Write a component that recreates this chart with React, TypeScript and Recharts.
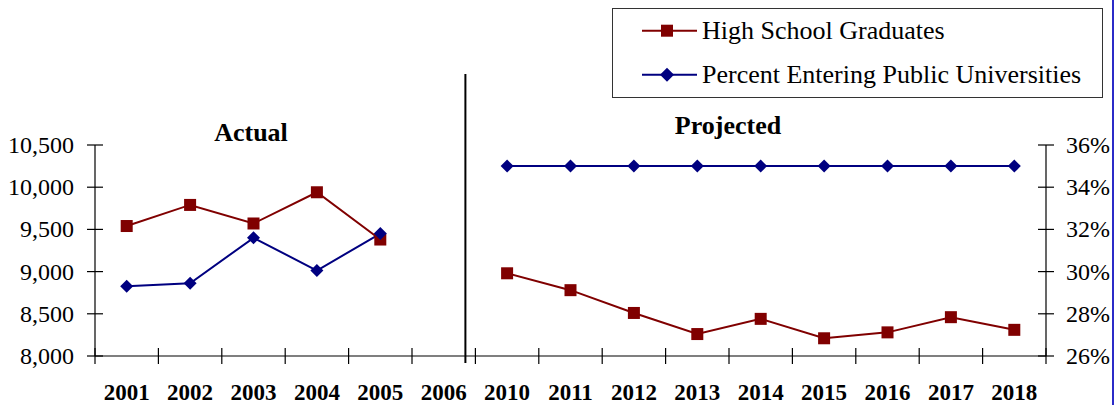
import React from "react";
import { Legend, Line, LineChart, ReferenceLine, XAxis, YAxis } from "recharts";

const years = ["2001", "2002", "2003", "2004", "2005", "2006", "2010", "2011", "2012", "2013", "2014", "2015", "2016", "2017", "2018"];
const graduates = [9540, 9790, 9570, 9940, 9380, null, 8980, 8780, 8510, 8260, 8440, 8210, 8280, 8460, 8310];
const percentEntering = [29.3, 29.45, 31.6, 30.05, 31.8, null, 35, 35, 35, 35, 35, 35, 35, 35, 35];
const leftTicks = [8000, 8500, 9000, 9500, 10000, 10500];
const rightTicks = [26, 28, 30, 32, 34, 36];

const data = years.map((year, i) => ({ year, grads: graduates[i], pct: percentEntering[i] }));

const W = 1115;
const H = 405;
const LEFT_W = 95;
const RIGHT_W = 69;
const TOP = 145;
const X_H = 49;
const BAND = (W - LEFT_W - RIGHT_W) / years.length;

const RED = "#800000";
const BLUE = "#000080";
const AXIS = "#000";
const FONT = "'Liberation Serif', 'Times New Roman', serif";

function Square({ cx, cy, color, size = 12 }: any) {
  if (cx == null || cy == null) return null;
  return <rect x={cx - size / 2} y={cy - size / 2} width={size} height={size} fill={color} />;
}

function Diamond({ cx, cy, color, r = 6.5 }: any) {
  if (cx == null || cy == null) return null;
  return <polygon points={`${cx},${cy - r} ${cx + r},${cy} ${cx},${cy + r} ${cx - r},${cy}`} fill={color} />;
}

function XTick({ x, y, payload, index }: any) {
  const left = x - BAND / 2;
  return (
    <g>
      <line x1={left} y1={y - 8} x2={left} y2={y + 8} stroke={AXIS} strokeWidth={1.2} />
      {index === years.length - 1 && (
        <line x1={x + BAND / 2} y1={y - 8} x2={x + BAND / 2} y2={y + 8} stroke={AXIS} strokeWidth={1.2} />
      )}
      <text x={x} y={y + 44} textAnchor="middle" fontFamily={FONT} fontWeight="bold" fontSize={23} fill="#000">
        {payload.value}
      </text>
    </g>
  );
}

function LeftTick({ x, y, payload }: any) {
  return (
    <g>
      <line x1={x - 8} y1={y} x2={x + 8} y2={y} stroke={AXIS} strokeWidth={1.2} />
      <text x={x - 21} y={y + 8} textAnchor="end" fontFamily={FONT} fontSize={24} fill="#000">
        {payload.value.toLocaleString("en-US")}
      </text>
    </g>
  );
}

function RightTick({ x, y, payload }: any) {
  return (
    <g>
      <line x1={x - 8} y1={y} x2={x + 8} y2={y} stroke={AXIS} strokeWidth={1.2} />
      <text x={x + 20} y={y + 8} textAnchor="start" fontFamily={FONT} fontSize={24} fill="#000">
        {payload.value}%
      </text>
    </g>
  );
}

function Separator(props: any) {
  const { x1, y1, y2 } = props;
  const top = Math.min(y1, y2);
  const bottom = Math.max(y1, y2);
  return <line x1={x1 - 10} y1={top - 71} x2={x1 - 10} y2={bottom + 7} stroke="#000" strokeWidth={2} />;
}

function LegendBox({ payload }: any) {
  const items = payload || [];
  return (
    <svg width={491} height={90} style={{ display: "block" }}>
      <rect x={0.5} y={0.5} width={490} height={89} fill="#fff" stroke="#333" />
      {items.map((item: any, i: number) => {
        const cy = 22.7 + i * 44;
        const color = item.color;
        return (
          <g key={item.value}>
            <line x1={30} y1={cy} x2={85} y2={cy} stroke={color} strokeWidth={2} />
            {item.dataKey === "grads" ? (
              <Square cx={55} cy={cy} color={color} />
            ) : (
              <Diamond cx={55} cy={cy} color={color} r={7} />
            )}
            <text x={90} y={cy + 8.5} fontFamily={FONT} fontSize={26} fill="#000">
              {item.value}
            </text>
          </g>
        );
      })}
    </svg>
  );
}

const titleStyle: React.CSSProperties = {
  position: "absolute",
  fontFamily: FONT,
  fontWeight: "bold",
  fontSize: 26,
  lineHeight: "26px",
  transform: "translateX(-50%)",
  whiteSpace: "nowrap",
};

export default function App() {
  return (
    <div style={{ position: "absolute", left: 0, top: 0, width: W, height: H, background: "#fff", fontFamily: FONT }}>
      <LineChart width={W} height={H} data={data} margin={{ top: TOP, right: 0, bottom: 0, left: 0 }}>
        <XAxis
          dataKey="year"
          scale="band"
          height={X_H}
          axisLine={{ stroke: AXIS, strokeWidth: 1.2 }}
          tickLine={false}
          tickSize={0}
          tickMargin={0}
          interval={0}
          tick={<XTick />}
        />
        <YAxis
          yAxisId="left"
          width={LEFT_W}
          domain={[8000, 10500]}
          ticks={leftTicks}
          axisLine={{ stroke: AXIS, strokeWidth: 1.2 }}
          tickLine={false}
          tickSize={0}
          tickMargin={0}
          tick={<LeftTick />}
        />
        <YAxis
          yAxisId="right"
          orientation="right"
          width={RIGHT_W}
          domain={[26, 36]}
          ticks={rightTicks}
          axisLine={{ stroke: AXIS, strokeWidth: 1.2 }}
          tickLine={false}
          tickSize={0}
          tickMargin={0}
          tick={<RightTick />}
        />
        <ReferenceLine yAxisId="left" x="2010" position="start" shape={<Separator />} />
        <Legend
          layout="vertical"
          align="center"
          verticalAlign="middle"
          wrapperStyle={{ top: 8, left: 612, width: 491, height: 90 }}
          content={<LegendBox />}
        />
        <Line
          yAxisId="left"
          dataKey="grads"
          name="High School Graduates"
          stroke={RED}
          strokeWidth={2}
          dot={(p: any) => <Square key={`g${p.index}`} cx={p.cx} cy={p.cy} color={RED} />}
          activeDot={false}
          isAnimationActive={false}
        />
        <Line
          yAxisId="right"
          dataKey="pct"
          name="Percent Entering Public Universities"
          stroke={BLUE}
          strokeWidth={2}
          dot={(p: any) => <Diamond key={`p${p.index}`} cx={p.cx} cy={p.cy} color={BLUE} />}
          activeDot={false}
          isAnimationActive={false}
        />
      </LineChart>
      <div style={{ ...titleStyle, left: 251, top: 120 }}>Actual</div>
      <div style={{ ...titleStyle, left: 728, top: 113 }}>Projected</div>
      <div style={{ position: "absolute", left: 1112, top: 0, width: 2, height: H, background: "#2b2bc8" }} />
    </div>
  );
}
